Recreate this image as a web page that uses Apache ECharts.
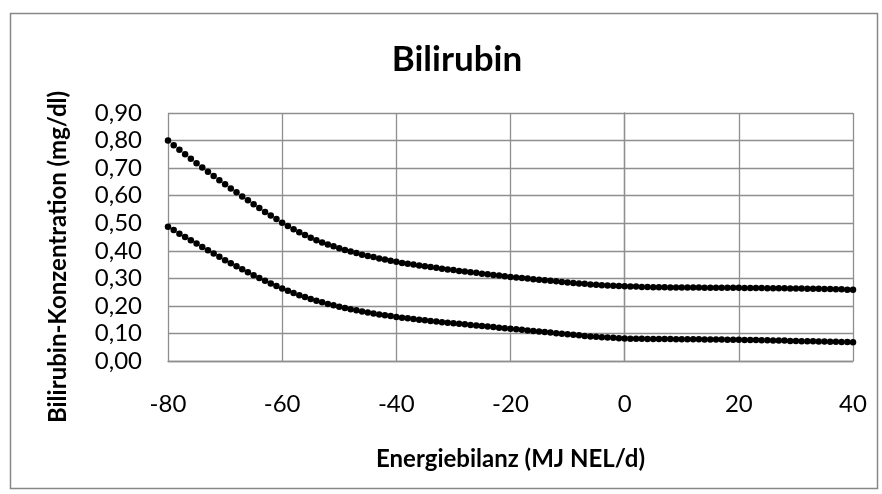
<!DOCTYPE html>
<html>
<head>
<meta charset="utf-8">
<script src="https://cdn.jsdelivr.net/npm/echarts@6/dist/echarts.min.js"></script>
<style>
  html, body { margin: 0; padding: 0; background: #fff; }
  #main { width: 882px; height: 494px; }
</style>
</head>
<body>
<div id="main"></div>
<script>
// Energiebilanz (MJ NEL/d)
var energie = [
  -80, -79, -78, -77, -76, -75, -74, -73, -72, -71,
  -70, -69, -68, -67, -66, -65, -64, -63, -62, -61,
  -60, -59, -58, -57, -56, -55, -54, -53, -52, -51,
  -50, -49, -48, -47, -46, -45, -44, -43, -42, -41,
  -40, -39, -38, -37, -36, -35, -34, -33, -32, -31,
  -30, -29, -28, -27, -26, -25, -24, -23, -22, -21,
  -20, -19, -18, -17, -16, -15, -14, -13, -12, -11,
  -10, -9, -8, -7, -6, -5, -4, -3, -2, -1,
  0, 1, 2, 3, 4, 5, 6, 7, 8, 9,
  10, 11, 12, 13, 14, 15, 16, 17, 18, 19,
  20, 21, 22, 23, 24, 25, 26, 27, 28, 29,
  30, 31, 32, 33, 34, 35, 36, 37, 38, 39,
  40
];

// obere Kurve (mg/dl)
var oben = [
  0.800, 0.783, 0.767, 0.750, 0.734, 0.718, 0.702, 0.687, 0.671, 0.656,
  0.641, 0.626, 0.612, 0.597, 0.583, 0.569, 0.555, 0.541, 0.528, 0.515,
  0.502, 0.490, 0.478, 0.467, 0.457, 0.447, 0.438, 0.430, 0.423, 0.416,
  0.409, 0.403, 0.397, 0.392, 0.386, 0.381, 0.377, 0.372, 0.368, 0.364,
  0.360, 0.356, 0.353, 0.350, 0.347, 0.344, 0.341, 0.338, 0.335, 0.332,
  0.330, 0.327, 0.325, 0.322, 0.320, 0.317, 0.315, 0.312, 0.310, 0.308,
  0.305, 0.303, 0.301, 0.299, 0.297, 0.295, 0.293, 0.291, 0.289, 0.287,
  0.285, 0.283, 0.281, 0.280, 0.278, 0.277, 0.275, 0.274, 0.273, 0.272,
  0.271, 0.270, 0.270, 0.269, 0.269, 0.268, 0.268, 0.268, 0.267, 0.267,
  0.267, 0.267, 0.267, 0.267, 0.266, 0.266, 0.266, 0.266, 0.266, 0.266,
  0.266, 0.265, 0.265, 0.265, 0.265, 0.264, 0.264, 0.264, 0.264, 0.263,
  0.263, 0.263, 0.262, 0.262, 0.262, 0.261, 0.261, 0.260, 0.260, 0.259,
  0.259
];

// untere Kurve (mg/dl)
var unten = [
  0.487, 0.475, 0.462, 0.450, 0.438, 0.426, 0.414, 0.402, 0.390, 0.378,
  0.366, 0.355, 0.344, 0.333, 0.322, 0.311, 0.301, 0.291, 0.281, 0.272,
  0.263, 0.255, 0.247, 0.239, 0.232, 0.225, 0.219, 0.213, 0.207, 0.202,
  0.197, 0.192, 0.188, 0.184, 0.180, 0.176, 0.172, 0.169, 0.166, 0.163,
  0.160, 0.157, 0.155, 0.152, 0.150, 0.148, 0.145, 0.143, 0.141, 0.139,
  0.137, 0.135, 0.133, 0.131, 0.129, 0.127, 0.125, 0.123, 0.121, 0.119,
  0.117, 0.115, 0.113, 0.111, 0.109, 0.107, 0.105, 0.103, 0.101, 0.099,
  0.097, 0.095, 0.093, 0.091, 0.089, 0.088, 0.086, 0.085, 0.084, 0.083,
  0.082, 0.081, 0.081, 0.081, 0.080, 0.080, 0.080, 0.080, 0.080, 0.079,
  0.079, 0.079, 0.079, 0.079, 0.078, 0.078, 0.078, 0.078, 0.077, 0.077,
  0.077, 0.076, 0.076, 0.076, 0.075, 0.075, 0.074, 0.074, 0.074, 0.073,
  0.073, 0.072, 0.072, 0.072, 0.071, 0.071, 0.070, 0.070, 0.069, 0.069,
  0.068
];

var xTicks = [-80, -60, -40, -20, 0, 20, 40];
var yTicks = [0, 0.1, 0.2, 0.3, 0.4, 0.5, 0.6, 0.7, 0.8, 0.9];

function pairs(xs, ys) {
  var out = [];
  for (var i = 0; i < xs.length; i++) {
    out.push([xs[i], ys[i]]);
  }
  return out;
}

var chart = echarts.init(document.getElementById('main'), null, { renderer: 'canvas' });
var gridColor = '#8f8f8f';
var fontFam = 'Lato, "Open Sans", sans-serif';

var option = {
  animation: false,
  backgroundColor: '#fff',
  textStyle: { fontFamily: fontFam },
  title: {
    text: 'Bilirubin',
    left: 452,
    textAlign: 'center',
    top: 37,
    textStyle: { fontFamily: fontFam, fontSize: 35, fontWeight: 'bold', color: '#000' }
  },
  graphic: [{
    type: 'rect',
    shape: { x: 10.5, y: 13.5, width: 867, height: 475 },
    style: { fill: 'none', stroke: '#888', lineWidth: 1.5 },
    silent: true
  }],
  grid: { left: 168, right: 29, top: 113, bottom: 133, containLabel: false },
  xAxis: {
    type: 'value',
    min: xTicks[0],
    max: xTicks[xTicks.length - 1],
    interval: 20,
    name: 'Energiebilanz (MJ NEL/d)',
    nameLocation: 'middle',
    nameGap: 86,
    nameTextStyle: { fontFamily: fontFam, fontSize: 24, fontWeight: 'bold', color: '#000' },
    axisLine: { show: true, lineStyle: { color: gridColor, width: 1.3 } },
    axisTick: { show: false },
    axisLabel: { margin: 31, fontSize: 24, color: '#000', fontFamily: fontFam },
    splitLine: { show: true, lineStyle: { color: gridColor, width: 1.3 } }
  },
  yAxis: {
    type: 'value',
    min: yTicks[0],
    max: yTicks[yTicks.length - 1],
    interval: 0.1,
    name: 'Bilirubin-Konzentration (mg/dl)',
    nameLocation: 'middle',
    nameGap: 98,
    nameTextStyle: {
      fontFamily: fontFam, fontSize: 24, fontWeight: 'bold', color: '#000',
      padding: [0, 40, 0, 0]
    },
    axisLine: { show: true, lineStyle: { color: gridColor, width: 1.3 } },
    axisTick: { show: false },
    axisLabel: {
      margin: 26,
      fontSize: 24,
      color: '#000',
      fontFamily: fontFam,
      formatter: function (v) { return v.toFixed(2).replace('.', ','); }
    },
    splitLine: { show: true, lineStyle: { color: gridColor, width: 1.3 } }
  },
  series: [{
    name: 'oben',
    type: 'scatter',
    symbol: 'circle',
    symbolSize: 6.5,
    itemStyle: { color: '#000', opacity: 1 },
    data: pairs(energie, oben)
  }, {
    name: 'unten',
    type: 'scatter',
    symbol: 'circle',
    symbolSize: 6.5,
    itemStyle: { color: '#000', opacity: 1 },
    data: pairs(energie, unten)
  }]
};

chart.setOption(option);
</script>
</body>
</html>
